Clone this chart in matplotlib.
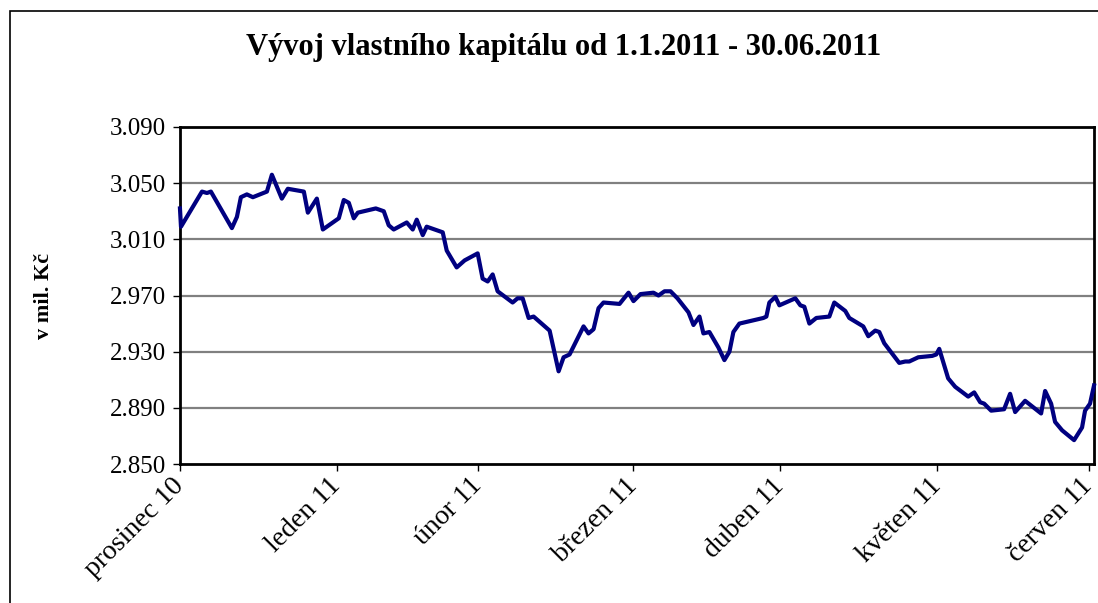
import numpy as np
import matplotlib.pyplot as plt
from matplotlib.patches import Rectangle
from matplotlib.ticker import FuncFormatter

# trading-day index (category position) and equity in mil. Kc
day = [0, 0.14, 3.01, 3.69, 4.23, 7.10, 7.79, 8.33, 9.15, 9.97, 11.89, 12.57,
       13.93, 14.75, 16.94, 17.49, 18.72, 19.54, 21.72, 22.40, 23.09, 23.77,
       24.32, 26.78, 27.87, 28.55, 29.23, 31.01, 31.83, 32.38, 33.20, 33.74,
       35.93, 36.48, 37.84, 38.93, 40.71, 41.39, 42.08, 42.76, 43.44, 45.49,
       46.17, 46.86, 47.68, 48.36, 50.55, 51.78, 52.46, 53.28, 55.19, 55.87,
       56.56, 57.24, 57.92, 60.11, 61.34, 62.02, 62.98, 64.75, 65.44, 66.26,
       67.08, 68.03, 69.54, 70.22, 71.04, 71.58, 72.40, 73.63, 74.45, 75.14,
       75.68, 76.50, 79.78, 80.19, 80.60, 81.42, 81.97, 84.15, 84.84, 85.38,
       86.07, 87.02, 88.80, 89.48, 90.98, 91.53, 93.44, 94.13, 95.08, 95.63,
       96.31, 98.36, 99.18, 99.73, 100.96, 102.87, 103.42, 103.83, 105.05,
       106.01, 107.79, 108.61, 109.43, 109.97, 110.93, 112.70, 113.52, 114.21,
       115.57, 117.76, 118.31, 119.13, 119.67, 120.63, 122.27, 123.36, 123.77,
       124.45, 125.0]
kapital = [3032, 3019, 3044, 3043, 3044, 3018, 3026, 3040, 3042, 3040, 3044, 3056,
           3039, 3046, 3044, 3029, 3039, 3017, 3025, 3038, 3036, 3025,
           3029, 3032, 3030, 3020, 3017, 3022, 3017, 3024, 3013, 3019,
           3015, 3002, 2990, 2995, 3000, 2982, 2980, 2985, 2973, 2965,
           2968, 2968, 2954, 2955, 2945, 2916, 2926, 2928, 2948, 2943,
           2946, 2961, 2965, 2964, 2972, 2966, 2971, 2972, 2970, 2973,
           2973, 2968, 2958, 2949, 2955, 2943, 2944, 2933, 2924, 2930,
           2944, 2950, 2954, 2955, 2965, 2969, 2963, 2968, 2963, 2962,
           2950, 2954, 2955, 2965, 2959, 2954, 2948, 2941, 2945, 2944,
           2936, 2922, 2923, 2923, 2926, 2927, 2928, 2932, 2911,
           2905, 2898, 2901, 2894, 2893, 2888, 2889, 2900, 2887,
           2895, 2886, 2902, 2893, 2880, 2874, 2867, 2876, 2888,
           2893, 2906]

month_pos = [0, 21.45, 40.71, 62.02, 82.1, 103.55, 124.3]
month_labels = ["prosinec 10", "leden 11", "únor 11", "březen 11",
                "duben 11", "květen 11", "červen 11"]
y_ticks = [2850, 2890, 2930, 2970, 3010, 3050, 3090]

plt.rcParams['font.family'] = ['Liberation Serif', 'DejaVu Serif']

fig = plt.figure(figsize=(10.98, 6.03), dpi=100)
ax = fig.add_axes([0.1639, 0.2305, 0.8325, 0.5589])

# outer chart frame
fig.patches.append(Rectangle((10 / 1098, -0.1), 1.2, 1 - 11 / 603 + 0.1,
                             transform=fig.transFigure, fill=False,
                             edgecolor='black', linewidth=1.2))

ax.plot(day, kapital, color='#000080', linewidth=3, solid_joinstyle='round',
        clip_on=False, zorder=3)

ax.set_xlim(0, 125)
ax.set_ylim(2850, 3090)
ax.set_yticks(y_ticks)
ax.yaxis.set_major_formatter(FuncFormatter(lambda v, p: f"{v:,.0f}".replace(',', '.')))
ax.set_xticks(month_pos)
ax.set_xticklabels(month_labels, rotation=45, ha='right', va='center',
                   rotation_mode='anchor')
ax.tick_params(axis='both', direction='out', length=5, width=1, color='black')
ax.tick_params(axis='x', labelsize=20, pad=8)
ax.tick_params(axis='y', labelsize=18, pad=5)

for v in y_ticks[1:-1]:
    ax.axhline(v, color='#808080', linewidth=1.6, zorder=1)
for s in ax.spines.values():
    s.set_linewidth(2)
    s.set_color('black')

ax.set_ylabel("v mil. Kč", fontsize=16, fontweight='bold', labelpad=40)
fig.text(0.513, 1 - 48 / 603, "Vývoj vlastního kapitálu od 1.1.2011 - 30.06.2011",
         ha='center', va='center', fontsize=22, fontweight='bold')

fig.savefig("out.png", dpi=100)
